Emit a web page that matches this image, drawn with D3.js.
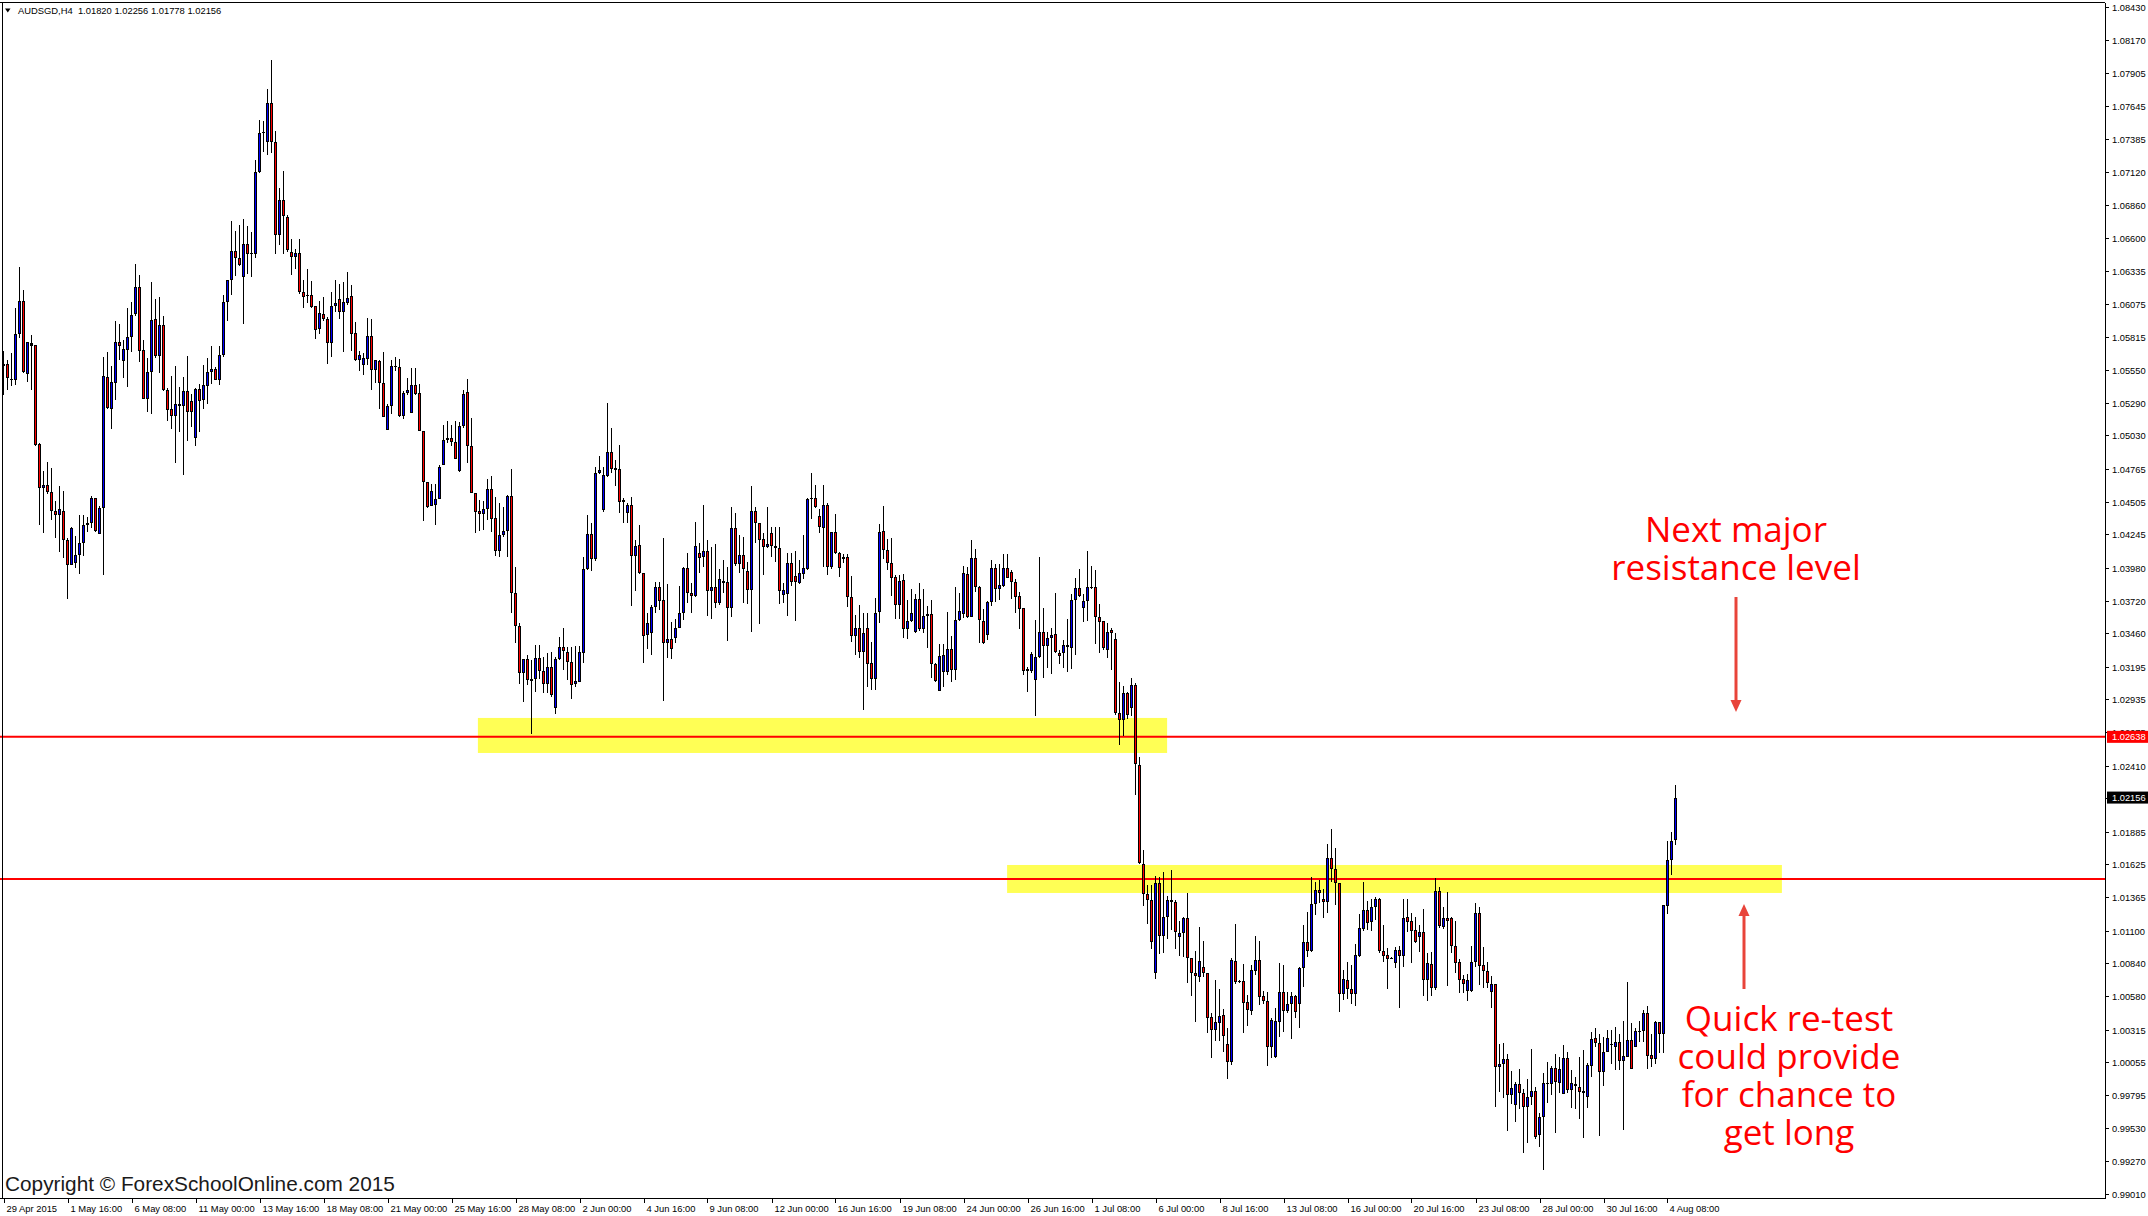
<!DOCTYPE html>
<html><head><meta charset="utf-8">
<script src="https://cdn.jsdelivr.net/npm/d3@7"></script>
<style>html,body{margin:0;padding:0;background:#fff}svg{display:block}</style>
</head><body>
<svg id="c" width="2148" height="1216"></svg>
<script>
// ---- data (AUDSGD H4, 4-hour bars from 29 Apr 2015) ----
const opens = [
1.0560,1.05593,1.0548,1.05473,1.05834,1.06095,1.0552,1.0576,1.05746,1.04962,
1.04615,1.04633,1.0458,1.04433,1.04401,1.04433,1.04204,1.04005,1.0402,1.04078,
1.04175,1.04316,1.04334,1.04533,1.04248,1.04454,1.05493,1.05238,1.05443,1.05775,
1.05623,1.0571,1.0581,1.0599,1.06207,1.05708,1.0532,1.05532,1.05951,1.05658,
1.05907,1.05393,1.05238,1.05188,1.05276,1.05261,1.05385,1.05305,1.05006,1.05402,
1.05311,1.05423,1.05532,1.05558,1.05467,1.05672,1.06092,1.0626,1.06492,1.06442,
1.06289,1.06553,1.06471,1.06471,1.0712,1.07434,1.07355,1.07669,1.07355,1.06618,
1.06897,1.06767,1.06489,1.06445,1.06474,1.06172,1.06136,1.06142,1.06054,1.05878,
1.0599,1.05951,1.0576,1.0606,1.06113,1.0601,1.06083,1.06136,1.0584,1.05628,
1.0559,1.05637,1.05819,1.05546,1.0562,1.05443,1.0507,1.05261,1.05579,1.0557,
1.05188,1.05364,1.05211,1.05429,1.05364,1.05065,1.04659,1.04469,1.04477,1.04527,
1.04792,1.04997,1.05006,1.04974,1.04748,1.05108,1.05372,1.04946,1.04571,1.0443,
1.04404,1.04444,1.04605,1.04372,1.04116,1.0424,1.04274,1.0455,1.03777,1.03521,
1.03148,1.03254,1.031,1.03095,1.03261,1.03164,1.03058,1.0319,1.02865,1.03254,
1.03354,1.03314,1.03235,1.03058,1.03076,1.03306,1.03968,1.04245,1.0405,1.0473,
1.04438,1.04708,1.04901,1.04756,1.04761,1.04499,1.04412,1.04478,1.04076,1.04161,
1.03936,1.03447,1.03465,1.03671,1.03825,1.03724,1.03381,1.03412,1.03425,1.03505,
1.03624,1.03976,1.03777,1.03759,1.04095,1.04068,1.04116,1.03798,1.03825,1.03703,
1.03857,1.0387,1.03663,1.04293,1.04007,1.04081,1.03957,1.03804,1.0443,1.04333,
1.04206,1.04142,1.04253,1.04153,1.04134,1.03764,1.03769,1.04015,1.03915,1.03862,
1.03928,1.03973,1.04523,1.04531,1.04391,1.04298,1.04478,1.03989,1.04261,1.041,
1.04047,1.04063,1.03751,1.03441,1.035,1.03314,1.035,1.03224,1.03095,1.03628,
1.04273,1.0412,1.04019,1.03907,1.03683,1.03882,1.03491,1.03554,1.03472,1.03732,
1.03491,1.03595,1.03614,1.03213,1.03,1.0315,1.0315,1.03336,1.03172,1.03562,
1.03609,1.03929,1.03587,1.04054,1.03828,1.03554,1.03445,1.03705,1.03978,1.03814,
1.03833,1.03978,1.03945,1.03868,1.03754,1.03658,1.03158,1.03158,1.0309,1.03273,
1.03467,1.03357,1.03423,1.03453,1.03303,1.03303,1.03368,1.03344,1.03726,1.03819,
1.03664,1.03718,1.03828,1.03828,1.0359,1.03554,1.0333,1.03486,1.03415,1.02825,
1.0277,1.02986,1.02863,1.03049,1.02415,1.01627,1.01388,1.01343,1.00762,1.01476,
1.01061,1.01206,1.01343,1.01325,1.01053,1.01079,1.01198,1.00881,1.00767,1.00735,
1.00809,1.00762,1.00412,1.00312,1.0037,1.00431,1.00198,1.0006,1.0086,1.00696,
1.00701,1.00537,1.00465,1.00783,1.00867,1.00582,1.00542,1.0018,1.00095,1.00378,
1.00611,1.00465,1.00516,1.00582,1.00516,1.00801,1.01008,1.00941,1.01309,1.01423,
1.01351,1.01325,1.01674,1.01587,1.01476,1.00595,1.00709,1.00635,1.00595,1.00899,
1.01111,1.01264,1.01172,1.01291,1.01349,1.00941,1.00907,1.00883,1.00841,1.00947,
1.00902,1.01206,1.01177,1.01105,1.01047,1.01087,1.00709,1.00836,1.00643,1.01415,
1.01127,1.01198,1.01198,1.00981,1.00849,1.00714,1.00624,1.00624,1.00849,1.01238,
1.00828,1.00783,1.00616,1.00674,1.00021,1.00042,1.00079,0.99796,0.99717,0.99881,
0.99809,0.99698,0.99778,0.99828,0.99479,0.99619,0.99884,0.99883,1.00008,0.99894,
0.99801,1.00087,0.99836,0.9987,0.99862,0.99809,0.99778,1.00026,1.00248,1.00206,
0.99976,1.0014,1.00195,1.0018,1.00214,1.00069,1.00095,1.00232,1.00174,1.00304,
1.00307,1.00444,1.00114,1.00079,1.00373,1.00277,1.01296,1.01661,1.0182];
const highs = [
1.0570,1.05628,1.05687,1.06039,1.06365,1.06183,1.05775,1.05825,1.0575,1.04968,
1.04748,1.04821,1.04771,1.04513,1.0463,1.04586,1.04219,1.04307,1.04234,1.04395,
1.04395,1.04381,1.04551,1.04533,1.04469,1.05649,1.05693,1.05584,1.05937,1.05913,
1.0579,1.06039,1.06089,1.06392,1.06304,1.0579,1.05643,1.06245,1.06113,1.06127,
1.05981,1.05408,1.05502,1.05584,1.05414,1.05496,1.05658,1.05355,1.05408,1.05438,
1.0559,1.05643,1.05743,1.0557,1.05737,1.06142,1.0626,1.0673,1.06656,1.067,
1.06744,1.06694,1.06641,1.07214,1.07537,1.07522,1.0778,1.08007,1.07449,1.06994,
1.07132,1.06779,1.06588,1.06509,1.06588,1.0626,1.06348,1.06254,1.0606,1.06098,
1.06127,1.05972,1.06166,1.06265,1.0623,1.06245,1.06324,1.06224,1.05931,1.05702,
1.05687,1.0596,1.05957,1.05628,1.05628,1.05696,1.05276,1.05625,1.05652,1.05637,
1.05379,1.05482,1.05564,1.05564,1.05438,1.05065,1.04659,1.04645,1.04645,1.04792,
1.05109,1.05144,1.05109,1.05144,1.05139,1.05391,1.0548,1.05166,1.04571,1.04518,
1.04513,1.04684,1.04708,1.04544,1.04491,1.04465,1.04557,1.04761,1.03984,1.03539,
1.03254,1.03288,1.03248,1.03367,1.03367,1.03269,1.03306,1.03314,1.03275,1.03433,
1.035,1.03354,1.03354,1.03359,1.03359,1.04068,1.04399,1.04333,1.04777,1.04867,
1.04777,1.0529,1.05089,1.04835,1.04954,1.04531,1.04497,1.04539,1.042,1.0432,
1.03941,1.03619,1.03685,1.0387,1.0387,1.04214,1.03851,1.03552,1.03571,1.03835,
1.03989,1.04095,1.03857,1.04346,1.04174,1.04478,1.042,1.04148,1.04166,1.03968,
1.04042,1.03989,1.04465,1.04417,1.0424,1.04222,1.04029,1.04629,1.04465,1.04338,
1.04253,1.04465,1.04306,1.04306,1.04306,1.03857,1.04095,1.04095,1.04116,1.04042,
1.0424,1.04531,1.0473,1.04637,1.04444,1.04637,1.04491,1.04267,1.04407,1.04108,
1.0409,1.0409,1.03915,1.03605,1.03685,1.03619,1.03617,1.0339,1.0374,1.04328,
1.0447,1.0421,1.04216,1.03923,1.03923,1.03931,1.03724,1.03814,1.03773,1.0386,
1.03814,1.03677,1.03726,1.03226,1.03377,1.03377,1.0363,1.0344,1.03828,1.03781,
1.03992,1.03986,1.04202,1.04128,1.03833,1.0365,1.03718,1.04038,1.04011,1.04011,
1.04087,1.04087,1.03964,1.0389,1.03787,1.03664,1.03191,1.03308,1.03568,1.04065,
1.03664,1.03472,1.035,1.03781,1.03327,1.03404,1.03576,1.03773,1.03901,1.0397,
1.03773,1.04109,1.03997,1.03959,1.03691,1.0356,1.03541,1.035,1.03464,1.03076,
1.03043,1.02994,1.03103,1.03062,1.02475,1.01737,1.01462,1.01462,1.01534,1.01529,
1.01568,1.01375,1.01582,1.01343,1.01179,1.01206,1.01402,1.00881,1.00939,1.01132,
1.01021,1.00767,1.00449,1.00709,1.00635,1.00476,1.00325,1.00881,1.01153,1.00709,
1.00836,1.0059,1.00828,1.01058,1.01021,1.00624,1.00616,1.0041,1.00484,1.00846,
1.00828,1.00616,1.00616,1.0059,1.00814,1.01145,1.01251,1.01523,1.01489,1.01502,
1.01428,1.01788,1.01904,1.01753,1.01476,1.00788,1.00849,1.00828,1.00994,1.01232,
1.01489,1.01338,1.01349,1.01365,1.01357,1.01145,1.0096,1.00894,1.00973,1.00981,
1.01349,1.01349,1.01238,1.01206,1.01145,1.01272,1.0092,1.00934,1.01515,1.01444,
1.01285,1.0141,1.01206,1.01179,1.00873,1.00748,1.00754,1.00978,1.01317,1.01291,
1.0097,1.00849,1.00743,1.00674,1.002,1.00206,1.00121,0.99987,0.99902,1.00002,
0.99844,0.99923,1.0016,0.99862,0.99651,0.99973,1.0006,1.00026,1.00119,1.001,
1.00193,1.00135,0.99994,0.99936,1.001,1.00153,1.00053,1.00299,1.00325,1.00277,
1.00259,1.00312,1.00312,1.00338,1.0028,1.00383,1.0069,1.00365,1.00325,1.00386,
1.00471,1.00502,1.0028,1.00383,1.00378,1.01304,1.01814,1.01886,1.02256];
const lows = [
1.0535,1.05393,1.05423,1.05432,1.05805,1.05526,1.05452,1.05393,1.04947,1.04322,
1.04257,1.04563,1.04357,1.04219,1.04102,1.04058,1.03729,1.03999,1.03976,1.03934,
1.04072,1.04263,1.04293,1.04263,1.04248,1.03925,1.05238,1.05079,1.05314,1.05628,
1.05482,1.05414,1.05696,1.05981,1.05614,1.0532,1.05217,1.05197,1.05643,1.05526,
1.05385,1.05144,1.05079,1.04815,1.05056,1.04718,1.04982,1.051,1.04947,1.05056,
1.05238,1.05282,1.05438,1.05467,1.05432,1.05652,1.05937,1.06142,1.06295,1.06377,
1.05913,1.06312,1.06289,1.06436,1.07111,1.07281,1.07252,1.07273,1.06471,1.06539,
1.06471,1.06489,1.06307,1.06348,1.06154,1.06045,1.06078,1.06039,1.05799,1.05834,
1.05937,1.05599,1.05649,1.0601,1.05951,1.05693,1.06069,1.05702,1.0562,1.0554,
1.05511,1.0559,1.05393,1.05443,1.05241,1.05179,1.0507,1.05203,1.0554,1.05173,
1.05159,1.05349,1.05211,1.05349,1.05062,1.04351,1.04454,1.04469,1.04316,1.04527,
1.04792,1.04968,1.04944,1.04842,1.04743,1.05086,1.04809,1.04571,1.04259,1.04274,
1.0428,1.04359,1.04267,1.04076,1.04063,1.04227,1.04068,1.03619,1.03381,1.03058,
1.02918,1.0305,1.0266,1.02992,1.03097,1.02984,1.02984,1.02957,1.02817,1.03248,
1.03169,1.0309,1.02936,1.03031,1.03076,1.03227,1.03962,1.03957,1.04034,1.04724,
1.04425,1.04703,1.0473,1.04629,1.04412,1.04338,1.04338,1.03677,1.03798,1.0393,
1.03227,1.03333,1.03288,1.03619,1.03645,1.02926,1.03261,1.03256,1.03381,1.035,
1.03566,1.03698,1.03619,1.03745,1.03941,1.03989,1.03597,1.03576,1.03663,1.03685,
1.03777,1.03402,1.03592,1.03994,1.03936,1.03698,1.03693,1.03473,1.04174,1.03531,
1.0392,1.04134,1.04068,1.04029,1.0369,1.03703,1.036,1.03835,1.0356,1.03851,
1.03888,1.03962,1.04364,1.04452,1.04259,1.03989,1.03923,1.03968,1.0409,1.03904,
1.04021,1.03666,1.03394,1.03288,1.03267,1.02852,1.03035,1.03008,1.03013,1.03541,
1.04046,1.03959,1.03759,1.03576,1.03576,1.03426,1.03412,1.03546,1.03464,1.0348,
1.03459,1.03341,1.03103,1.03076,1.03,1.0303,1.03131,1.03076,1.03087,1.03554,
1.03581,1.03581,1.03587,1.03787,1.03385,1.03377,1.03404,1.03677,1.0371,1.03726,
1.03828,1.03896,1.03732,1.03617,1.03491,1.03131,1.02994,1.03144,1.02803,1.03267,
1.03103,1.03185,1.03136,1.033,1.03213,1.03185,1.0315,1.0318,1.03286,1.03751,
1.03546,1.03554,1.03814,1.03371,1.03303,1.0333,1.03267,1.03166,1.02808,1.0257,
1.02647,1.02781,1.02803,1.0218,1.01627,1.01294,1.0115,1.00955,1.00714,1.00912,
1.0092,1.01031,1.01105,1.00958,1.00902,1.00894,1.00682,1.00584,1.00378,1.00696,
1.00735,1.00291,1.00092,1.00227,1.00227,1.00135,0.99921,1.00034,1.00674,1.00688,
1.00285,1.00344,1.00431,1.00748,1.0051,1.00518,1.00029,1.00092,1.00087,1.00259,
1.00293,1.00444,1.00238,1.00405,1.0033,1.00656,1.00894,1.00934,1.01224,1.01317,
1.01198,1.01238,1.01489,1.01304,1.00452,1.0055,1.00558,1.00516,1.00505,1.00894,
1.011,1.01105,1.011,1.01185,1.00926,1.00854,1.00637,1.00873,1.00801,1.00489,
1.00809,1.01087,1.00846,1.01005,1.00934,1.00584,1.00545,1.00582,1.0063,1.01119,
1.01111,1.00664,1.00926,1.00762,1.00608,1.00603,1.00545,1.00616,1.00814,1.00669,
1.00643,1.00643,1.00489,0.99703,0.99823,0.9977,0.99513,0.99725,0.99579,0.99685,
0.99339,0.99413,0.99717,0.99447,0.99381,0.99201,0.9973,0.99796,0.99492,0.99809,
0.99801,0.99809,0.99696,0.99682,0.99603,0.99452,0.99696,0.99941,1.00174,0.99474,
0.9987,1.0014,1.00042,0.99994,0.99994,0.99518,1.00095,1.0,1.00174,1.00219,
1.00219,1.00002,1.00021,1.0004,1.00132,1.00127,1.0123,1.01542,1.01778];
const closes = [
1.0558,1.05482,1.0547,1.05834,1.06095,1.05532,1.05769,1.05743,1.04953,1.04615,
1.04633,1.0458,1.04433,1.04401,1.04445,1.04204,1.04005,1.04298,1.04078,1.04175,
1.04316,1.04334,1.04533,1.04269,1.04454,1.05502,1.0525,1.05452,1.05775,1.05737,
1.05716,1.0581,1.05987,1.06207,1.05702,1.0532,1.05532,1.05945,1.05658,1.05907,
1.05393,1.05232,1.05188,1.05276,1.05261,1.05379,1.05217,1.05217,1.05399,1.05305,
1.05429,1.05532,1.05558,1.05473,1.05672,1.06092,1.0626,1.06492,1.06442,1.06386,
1.06553,1.06471,1.06474,1.07117,1.07434,1.07437,1.07669,1.07355,1.06618,1.06897,
1.06773,1.065,1.06445,1.06474,1.06172,1.06127,1.06142,1.06048,1.05869,1.06001,
1.05951,1.0576,1.0606,1.06083,1.0601,1.06089,1.06124,1.05834,1.05628,1.05667,
1.05643,1.05819,1.05546,1.05625,1.05443,1.05179,1.05261,1.05579,1.0557,1.05188,
1.05364,1.05388,1.05432,1.05355,1.05065,1.04659,1.04463,1.04586,1.04527,1.04783,
1.04997,1.05006,1.04974,1.04842,1.05105,1.05359,1.04949,1.04571,1.04425,1.04404,
1.04444,1.04605,1.04364,1.04116,1.0424,1.04272,1.0455,1.03777,1.03521,1.03148,
1.03254,1.0309,1.03084,1.03261,1.03164,1.03058,1.0319,1.02971,1.03254,1.03354,
1.03322,1.03235,1.0305,1.03084,1.03314,1.03968,1.04245,1.0405,1.0473,1.04756,
1.04716,1.04901,1.04761,1.04769,1.04499,1.04518,1.04478,1.04076,1.04155,1.03936,
1.03441,1.03539,1.03671,1.03825,1.03719,1.03381,1.03412,1.03333,1.035,1.03619,
1.03976,1.03777,1.03759,1.04153,1.0406,1.04116,1.03798,1.0383,1.03703,1.03888,
1.03875,1.03663,1.04293,1.04007,1.04081,1.03968,1.03804,1.0443,1.04333,1.042,
1.04142,1.04166,1.04153,1.04134,1.03798,1.03804,1.04015,1.0387,1.03865,1.03936,
1.03976,1.04523,1.04536,1.04465,1.04306,1.04478,1.03989,1.04261,1.041,1.03976,
1.04063,1.03751,1.03441,1.035,1.03314,1.0346,1.03218,1.03095,1.03622,1.04265,
1.0412,1.04019,1.03901,1.03683,1.03877,1.03491,1.03554,1.03622,1.03732,1.03491,
1.03595,1.03614,1.03213,1.03081,1.03281,1.03286,1.03336,1.03166,1.03568,1.03636,
1.03942,1.0359,1.04054,1.03828,1.03562,1.03382,1.0371,1.03978,1.03814,1.03841,
1.03978,1.03901,1.03868,1.03745,1.03655,1.03158,1.0318,1.03295,1.03273,1.03467,
1.03357,1.03423,1.03445,1.03308,1.03278,1.03368,1.03349,1.03726,1.03819,1.03759,
1.03718,1.03828,1.0382,1.03587,1.03551,1.03344,1.0347,1.03464,1.02825,1.0277,
1.02986,1.02808,1.03049,1.0242,1.01636,1.01387,1.01343,1.01013,1.01476,1.01061,
1.01206,1.01343,1.01325,1.01087,1.01079,1.01198,1.00881,1.00762,1.00743,1.0086,
1.00762,1.0041,1.00312,1.00378,1.00423,1.00267,1.0006,1.00867,1.00696,1.00701,
1.00524,1.00471,1.00788,1.00867,1.00571,1.00542,1.0018,1.00391,1.00383,1.00611,
1.00465,1.00516,1.00582,1.00452,1.00801,1.01008,1.00941,1.01309,1.01423,1.01402,
1.01325,1.01674,1.01587,1.01476,1.00595,1.00714,1.00635,1.00595,1.00907,1.01119,
1.01264,1.01158,1.01291,1.01349,1.00941,1.00902,1.00873,1.00878,1.00947,1.00902,
1.01203,1.01172,1.011,1.01013,1.01087,1.00709,1.00841,1.00643,1.01415,1.01137,
1.01198,1.01179,1.00981,1.00846,1.00709,1.00674,1.00709,1.00849,1.01238,1.00822,
1.00783,1.00682,1.00674,1.00021,1.00042,1.00079,0.99796,0.99849,0.99881,0.99809,
0.99698,0.99778,0.99828,0.99466,0.99619,0.99889,0.99894,1.00008,0.99902,1.0,
1.00087,0.99836,0.99889,0.99881,0.99817,0.99828,1.00034,1.0024,1.00206,0.99976,
1.0014,1.00248,1.002,1.00214,1.00069,1.00106,1.00232,1.0,1.00304,1.00307,
1.0045,1.00108,1.00079,1.00373,1.00277,1.01304,1.01661,1.01812,1.02156];

const timeLabels = ["29 Apr 2015","1 May 16:00","6 May 08:00","11 May 00:00","13 May 16:00","18 May 08:00",
"21 May 00:00","25 May 16:00","28 May 08:00","2 Jun 00:00","4 Jun 16:00","9 Jun 08:00","12 Jun 00:00",
"16 Jun 16:00","19 Jun 08:00","24 Jun 00:00","26 Jun 16:00","1 Jul 08:00","6 Jul 00:00","8 Jul 16:00",
"13 Jul 08:00","16 Jul 00:00","20 Jul 16:00","23 Jul 08:00","28 Jul 00:00","30 Jul 16:00","4 Aug 08:00"];
const barsPerTimeLabel = 16;
const priceTicks = ["1.08430","1.08170","1.07905","1.07645","1.07385","1.07120","1.06860","1.06600","1.06335",
"1.06075","1.05815","1.05550","1.05290","1.05030","1.04765","1.04505","1.04245","1.03980","1.03720","1.03460",
"1.03195","1.02935","1.02675","1.02410","1.02150","1.01885","1.01625","1.01365","1.01100","1.00840","1.00580",
"1.00315","1.00055","0.99795","0.99530","0.99270","0.99010"];
const levelPrices = [1.02638, 1.0151];
const levelLabels = ["1.02638", null];
const zoneFromBar = [118.6, 250.9];
const zoneToBar = [290.9, 444.6];
const zoneTop = [1.02788, 1.01621];
const zoneBottom = [1.02510, 1.01399];
const symbolTitle = "AUDSGD,H4";
const lastBar = {o:"1.01820", h:"1.02256", l:"1.01778", c:"1.02156"};
const noteResistance = ["Next major", "resistance level"];
const noteRetest = ["Quick re-test", "could provide", "for chance to", "get long"];

// ---- drawing ----
const svg = d3.select("#c");
const plotRight = 2105, plotBottom = 1198;
const x = d3.scaleLinear().domain([0, opens.length - 1]).range([3.5, 3.5 + 4 * (opens.length - 1)]);
const y = d3.scaleLinear().domain([0.99010, 1.08430]).range([1194, 7]);
const axisFont = "'Liberation Sans', Arial, sans-serif";

svg.append("rect").attr("width", 2148).attr("height", 1216).attr("fill", "#fff");

// zones
const gz = svg.append("g");
zoneFromBar.forEach((z, k) => {
  gz.append("rect").attr("x", x(zoneFromBar[k])).attr("width", x(zoneToBar[k]) - x(zoneFromBar[k]))
    .attr("y", y(zoneTop[k])).attr("height", y(zoneBottom[k]) - y(zoneTop[k])).attr("fill", "#ffff55");
});

// level lines
levelPrices.forEach(p => {
  svg.append("line").attr("x1", 0).attr("x2", plotRight).attr("y1", y(p)).attr("y2", y(p))
    .attr("stroke", "#ff0000").attr("stroke-width", 2);
});

// candles
const bars = d3.range(opens.length).map(i => ({i, o: opens[i], h: highs[i], l: lows[i], c: closes[i]}));
const gc = svg.append("g").attr("shape-rendering", "crispEdges");
const cg = gc.selectAll("g.c").data(bars).join("g").attr("class", "c");
cg.append("rect").attr("x", d => x(d.i) - 0.5).attr("width", 1)
  .attr("y", d => y(d.h)).attr("height", d => Math.max(1, y(d.l) - y(d.h))).attr("fill", "#000");
cg.append("rect").attr("x", d => x(d.i) - 1.5).attr("width", 3)
  .attr("y", d => y(Math.max(d.o, d.c))).attr("height", d => Math.max(1, y(Math.min(d.o, d.c)) - y(Math.max(d.o, d.c))))
  .attr("fill", "#000");
cg.filter(d => y(Math.min(d.o, d.c)) - y(Math.max(d.o, d.c)) > 2.2).append("rect")
  .attr("x", d => x(d.i) - 0.5).attr("width", 1)
  .attr("y", d => y(Math.max(d.o, d.c)) + 1).attr("height", d => y(Math.min(d.o, d.c)) - y(Math.max(d.o, d.c)) - 2)
  .attr("fill", d => d.c >= d.o ? "#0000ff" : "#ff0000");

// frame and axes
const gf = svg.append("g").attr("shape-rendering", "crispEdges");
gf.append("line").attr("x1", 0).attr("x2", plotRight).attr("y1", 2.5).attr("y2", 2.5).attr("stroke", "#000");
gf.append("line").attr("x1", 2.5).attr("x2", 2.5).attr("y1", 2.5).attr("y2", plotBottom).attr("stroke", "#000");
gf.append("line").attr("x1", plotRight + 0.5).attr("x2", plotRight + 0.5).attr("y1", 2.5).attr("y2", plotBottom + 1).attr("stroke", "#000");
gf.append("line").attr("x1", 0).attr("x2", plotRight + 1).attr("y1", plotBottom + 0.5).attr("y2", plotBottom + 0.5).attr("stroke", "#000");

// price axis
const ga = svg.append("g");
priceTicks.forEach(t => {
  const yy = Math.round(y(+t)) + 0.5;
  ga.append("line").attr("x1", plotRight).attr("x2", plotRight + 4).attr("y1", yy).attr("y2", yy)
    .attr("stroke", "#000").attr("shape-rendering", "crispEdges");
  ga.append("text").attr("x", plotRight + 7).attr("y", yy + 3.3).text(t)
    .attr("font-family", axisFont).attr("font-size", 9.3).attr("fill", "#000");
});
// level label
levelPrices.forEach((p, k) => {
  if (!levelLabels[k]) return;
  ga.append("rect").attr("x", plotRight + 2).attr("y", y(p) - 6).attr("width", 2148 - plotRight - 2).attr("height", 12).attr("fill", "#ff0000");
  ga.append("text").attr("x", plotRight + 7).attr("y", y(p) + 3.3).text(levelLabels[k])
    .attr("font-family", axisFont).attr("font-size", 9.3).attr("fill", "#fff");
});
// current price label
const lastClose = closes[closes.length - 1];
ga.append("rect").attr("x", plotRight + 2).attr("y", y(lastClose) - 6).attr("width", 2148 - plotRight - 2).attr("height", 12).attr("fill", "#000");
ga.append("text").attr("x", plotRight + 7).attr("y", y(lastClose) + 3.3).text(lastBar.c)
  .attr("font-family", axisFont).attr("font-size", 9.3).attr("fill", "#fff");

// time axis
const gt = svg.append("g");
timeLabels.forEach((t, k) => {
  const xx = Math.round(x(k * barsPerTimeLabel)) + 0.5;
  gt.append("line").attr("x1", xx).attr("x2", xx).attr("y1", plotBottom).attr("y2", plotBottom + 5)
    .attr("stroke", "#000").attr("shape-rendering", "crispEdges");
  gt.append("text").attr("x", xx + 2).attr("y", 1211.5).text(t)
    .attr("font-family", axisFont).attr("font-size", 9.4).attr("fill", "#000");
});

// title
svg.append("path").attr("d", "M5,8.5 L10.5,8.5 L7.75,12.5 Z").attr("fill", "#000");
svg.append("text").attr("x", 18).attr("y", 14).attr("font-family", axisFont).attr("font-size", 9.4).attr("fill", "#000")
  .attr("xml:space", "preserve")
  .text(symbolTitle + "  " + [lastBar.o, lastBar.h, lastBar.l, lastBar.c].join(" "));

// copyright
svg.append("text").attr("x", 5).attr("y", 1191).attr("font-family", axisFont).attr("font-size", 20.8)
  .attr("fill", "#1a1a1a").text("Copyright \u00A9 ForexSchoolOnline.com 2015");

// annotations (one text block each, lines as tspans)
const noteFont = "'Open Sans', 'Noto Sans', sans-serif";
function note(lines, cx, firstBaseline) {
  const t = svg.append("text").attr("text-anchor", "middle").attr("font-family", noteFont)
    .attr("font-size", 35).attr("fill", "#ff0000");
  lines.forEach((s, k) => {
    t.append("tspan").attr("x", cx).attr("y", firstBaseline + k * 38).text(s);
  });
}
note(noteResistance, 1736, 542);
note(noteRetest, 1789, 1031);

const arrowColor = "#e8443a";
function arrow(xx, y1, y2) { // tip at y2
  const dir = y2 > y1 ? 1 : -1;
  svg.append("line").attr("x1", xx).attr("x2", xx).attr("y1", y1).attr("y2", y2 - dir * 10)
    .attr("stroke", arrowColor).attr("stroke-width", 3);
  svg.append("path").attr("d", `M${xx - 5.5},${y2 - dir * 12} L${xx + 5.5},${y2 - dir * 12} L${xx},${y2} Z`).attr("fill", arrowColor);
}
arrow(1736, 597, 712);
arrow(1744, 989, 904);
</script>
</body></html>
